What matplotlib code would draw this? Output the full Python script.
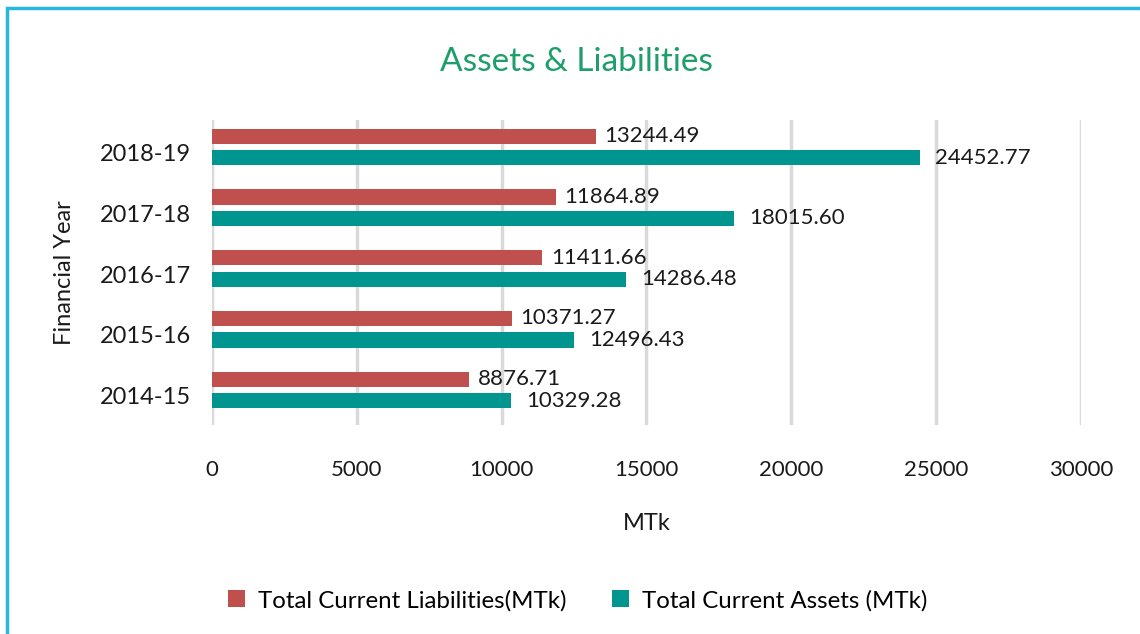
import numpy as np
import matplotlib.pyplot as plt
from matplotlib.patches import Rectangle

plt.rcParams['font.family'] = ['Lato', 'DejaVu Sans']

years = ['2014-15', '2015-16', '2016-17', '2017-18', '2018-19']
liabilities = [8876.71, 10371.27, 11411.66, 11864.89, 13244.49]
assets = [10329.28, 12496.43, 14286.48, 18015.60, 24452.77]
xticks = [0, 5000, 10000, 15000, 20000, 25000, 30000]

red = '#C0504D'
teal = '#00968F'
title_green = '#1E9E6A'
txt = '#1a1a1a'

fig = plt.figure(figsize=(11.4, 6.34), dpi=100)
ax = fig.add_axes([0.186, 0.3297, 0.762, 0.481])

y = np.arange(len(years))
h = 0.25
b1 = ax.barh(y + 0.177, liabilities, height=h, color=red, label='Total Current Liabilities(MTk)', zorder=3)
b2 = ax.barh(y - 0.177, assets, height=h, color=teal, label='Total Current Assets (MTk)', zorder=3)

ax.bar_label(b1, labels=[f'{v:.2f}' for v in liabilities], padding=6, fontsize=16, color=txt)
ax.bar_label(b2, labels=[f'{v:.2f}' for v in assets], padding=11, fontsize=16, color=txt)

ax.set_xlim(0, 30000)
ax.set_ylim(-0.576, 4.444)
ax.set_xticks(xticks)
ax.set_xticklabels([str(t) for t in xticks], fontsize=16, color=txt)
ax.set_yticks(y - 0.094)
ax.set_yticklabels(years, fontsize=17, color=txt)
ax.tick_params(axis='x', length=0, pad=25)
ax.tick_params(axis='y', length=0, pad=15)
ax.grid(axis='x', color='#D9D9D9', linewidth=2.5, zorder=0)
for s in ax.spines.values():
    s.set_visible(False)

ax.set_xlabel('MTk', fontsize=17, color=txt, labelpad=24)
ax.set_ylabel('Financial Year', fontsize=17, color=txt, labelpad=18)

fig.text(0.506, 0.902, 'Assets & Liabilities', ha='center', va='center',
         fontsize=24, color=title_green)

fig.legend(handles=[b1, b2], loc='center', bbox_to_anchor=(0.507, 0.053), ncol=2,
           frameon=False, fontsize=17.3, handlelength=0.7, handleheight=0.7,
           columnspacing=1.9, handletextpad=0.55)

# light blue frame around the chart
fig.patches.append(Rectangle((7 / 1140, -0.05), 1.2, 1 - 8 / 634 + 0.05,
                             transform=fig.transFigure, fill=False,
                             edgecolor='#29B6E0', linewidth=2.5))

fig.savefig('out.png', dpi=100)
